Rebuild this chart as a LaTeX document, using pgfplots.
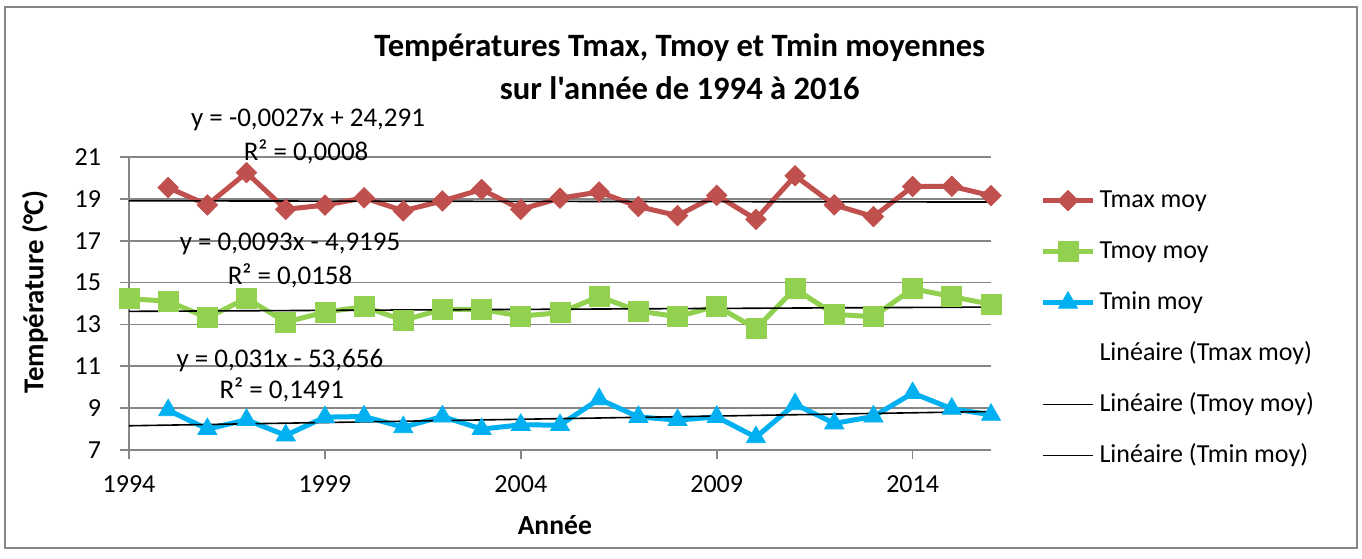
\documentclass[border=0pt]{standalone}
\usepackage{fontspec}
\setmainfont{Carlito}[Ligatures=TeXOff]
\usepackage{pgfplots}
\pgfplotsset{compat=1.18}
\definecolor{TMAX}{HTML}{C0504D}
\definecolor{TMOY}{HTML}{92D050}
\definecolor{TMIN}{HTML}{00B0F0}
\definecolor{GRID}{HTML}{868686}

\begin{document}
\begin{tikzpicture}
\begin{axis}[
  scale only axis,
  width=431pt, height=146.5pt,
  xmin=1994, xmax=2016, ymin=7, ymax=21,
  xtick={1994,1999,2004,2009,2014},
  ytick={7,9,11,13,15,17,19,21},
  axis x line*=bottom, axis y line*=left,
  axis line style={draw=GRID, line width=0.8pt},
  tick style={draw=GRID, line width=0.8pt},
  tick align=outside, major tick length=4.5pt,
  ymajorgrids, grid style={draw=GRID, line width=0.8pt},
  /pgf/number format/assume math mode=true,
  xticklabel style={/pgf/number format/1000 sep={}, yshift=-5pt},
  yticklabel style={xshift=-6pt},
  tick label style={font=\fontsize{13}{15}\selectfont},
  clip=false,
  legend style={at={(1.057,0.895)}, anchor=north west, draw=none, fill=none,
    inner sep=0pt, row sep=13pt, font=\fontsize{13}{15}\selectfont,
    nodes={inner xsep=2pt, inner ysep=0pt, text height=9.5pt, text depth=3pt}},
  legend cell align=left,
  legend image code/.code={\draw[mark repeat=2,mark phase=2] plot coordinates {(0pt,0pt) (12.5pt,0pt) (25pt,0pt)};},
]
% Tmax moy
\addplot[TMAX, line width=2.5pt, mark=square*, mark size=3.6pt,
  mark options={rotate=45, solid, fill=TMAX, draw=TMAX, line width=0.4pt}] coordinates {
(1995,19.54) (1996,18.71) (1997,20.25) (1998,18.5) (1999,18.7) (2000,19.05)
(2001,18.43) (2002,18.9) (2003,19.45) (2004,18.5) (2005,19.03) (2006,19.33)
(2007,18.63) (2008,18.2) (2009,19.17) (2010,18.02) (2011,20.1) (2012,18.71)
(2013,18.15) (2014,19.59) (2015,19.6) (2016,19.15)
};
\addlegendentry{Tmax moy}
% Tmoy moy
\addplot[TMOY, line width=2.5pt, mark=square*, mark size=5pt,
  mark options={solid, fill=TMOY, draw=TMOY, line width=0.4pt}] coordinates {
(1994,14.23) (1995,14.11) (1996,13.32) (1997,14.25) (1998,13.11) (1999,13.59)
(2000,13.85) (2001,13.2) (2002,13.72) (2003,13.72) (2004,13.4) (2005,13.56)
(2006,14.33) (2007,13.64) (2008,13.37) (2009,13.88) (2010,12.8) (2011,14.71)
(2012,13.48) (2013,13.37) (2014,14.71) (2015,14.33) (2016,13.96)
};
\addlegendentry{Tmoy moy}
% Tmin moy
\addplot[TMIN, line width=2.5pt, mark=triangle*, mark size=5.5pt,
  mark options={solid, fill=TMIN, draw=TMIN, line width=0.4pt}] coordinates {
(1995,8.9) (1996,8.0) (1997,8.44) (1998,7.7) (1999,8.57) (2000,8.6)
(2001,8.09) (2002,8.6) (2003,8.0) (2004,8.2) (2005,8.19) (2006,9.43)
(2007,8.58) (2008,8.43) (2009,8.58) (2010,7.61) (2011,9.19) (2012,8.27)
(2013,8.6) (2014,9.72) (2015,8.97) (2016,8.68)
};
\addlegendentry{Tmin moy}
% linear trends
\addplot[black, line width=0.8pt, legend image code/.code={}] coordinates {(1994,18.907) (2016,18.848)};
\addlegendentry{Linéaire (Tmax moy)}
\addplot[black, line width=0.8pt] coordinates {(1994,13.625) (2016,13.830)};
\addlegendentry{Linéaire (Tmoy moy)}
\addplot[black, line width=0.8pt] coordinates {(1994,8.158) (2016,8.840)};
\addlegendentry{Linéaire (Tmin moy)}

\node[font=\fontsize{13.5}{15}\selectfont] at (axis cs:1998.57,22.77) {y = -0,0027x + 24,291};
\node[font=\fontsize{13.5}{15}\selectfont] at (axis cs:1998.52,21.24) {R² = 0,0008};
\node[font=\fontsize{13.5}{15}\selectfont] at (axis cs:1998.11,16.84) {y = 0,0093x - 4,9195};
\node[font=\fontsize{13.5}{15}\selectfont] at (axis cs:1998.11,15.31) {R² = 0,0158};
\node[font=\fontsize{13.5}{15}\selectfont] at (axis cs:1997.85,11.25) {y = 0,031x - 53,656};
\node[font=\fontsize{13.5}{15}\selectfont] at (axis cs:1997.9,9.87) {R² = 0,1491};

\node[font=\bfseries\fontsize{16.3}{19}\selectfont] at (rel axis cs:0.639,1.372) {Températures Tmax, Tmoy et Tmin moyennes};
\node[font=\bfseries\fontsize{16.3}{19}\selectfont] at (rel axis cs:0.639,1.235) {sur l'année de 1994 à 2016};
\node[font=\bfseries\fontsize{14.4}{17}\selectfont, rotate=90] at (rel axis cs:-0.109,0.539) {Température (°C)};
\node[font=\bfseries\fontsize{13.8}{16}\selectfont] at (rel axis cs:0.494,-0.256) {Année};
\end{axis}
\draw[GRID, line width=1pt] (-62pt,-49pt) rectangle (614pt,221.5pt);
\path[use as bounding box] (-64.5pt,-54pt) rectangle (616.5pt,225pt);
\end{tikzpicture}
\end{document}
